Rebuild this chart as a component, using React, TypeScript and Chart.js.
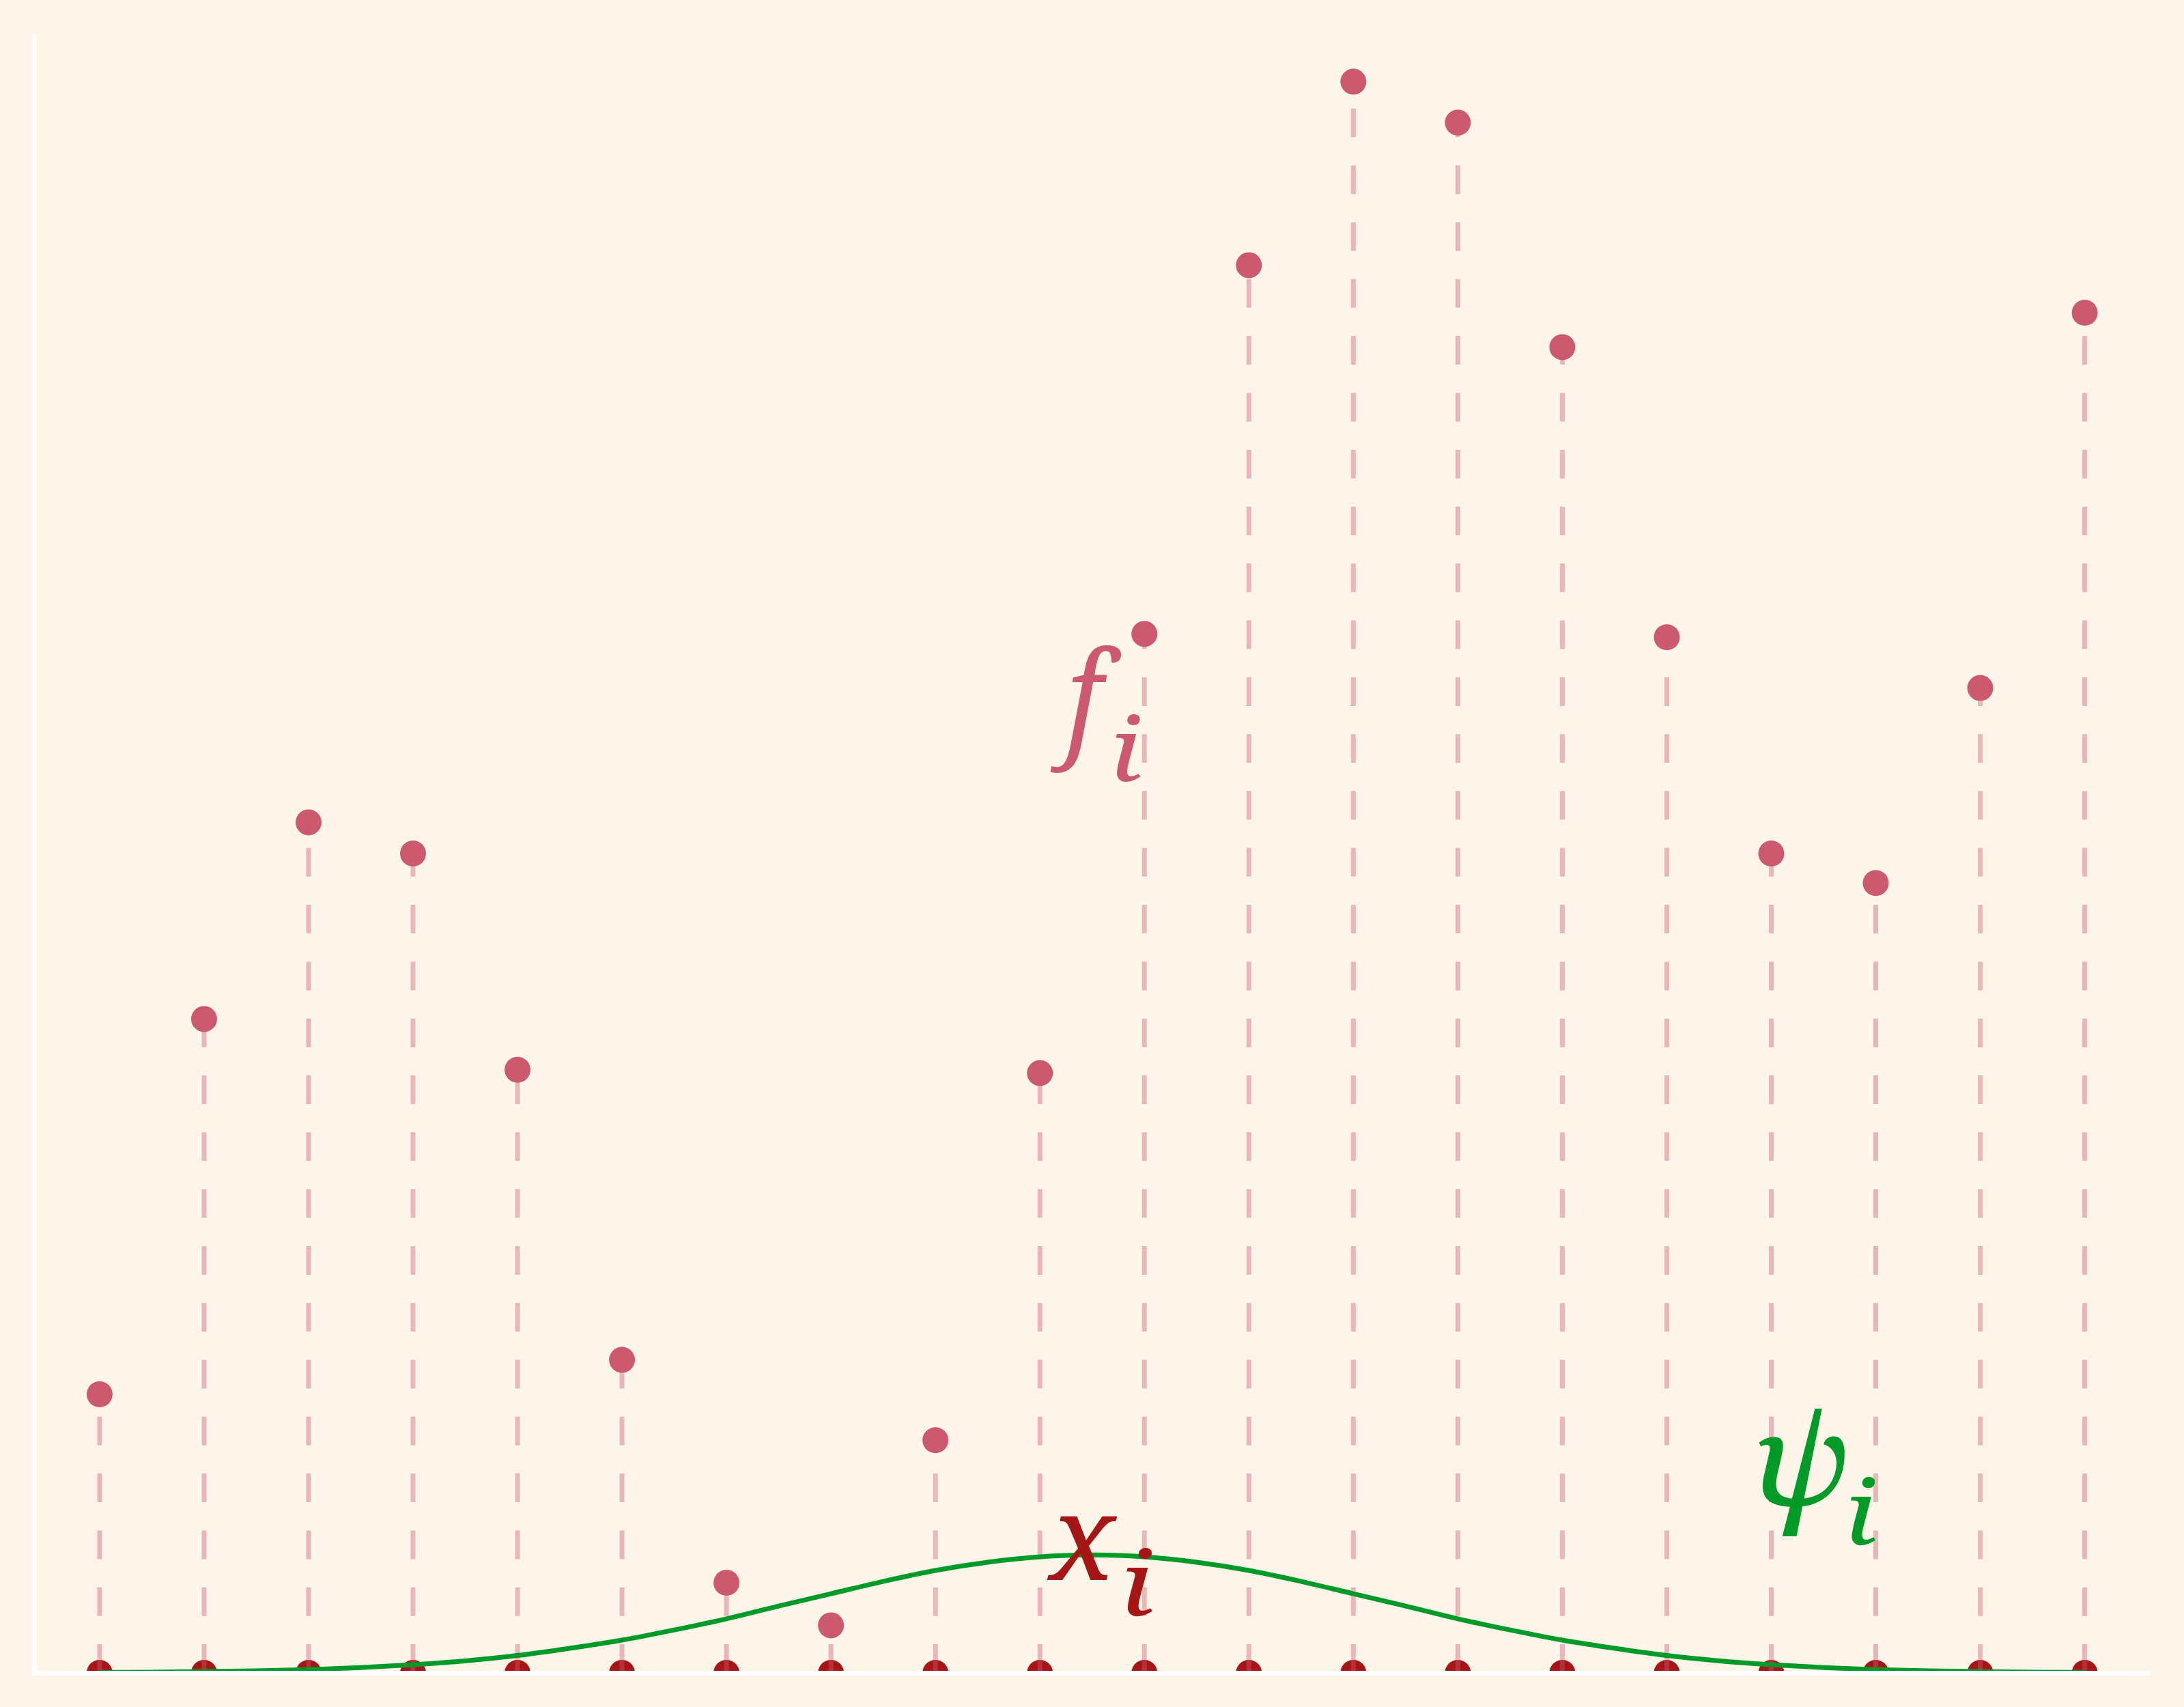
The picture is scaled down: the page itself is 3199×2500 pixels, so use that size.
import React, { useEffect, useRef } from "react";
import { Chart, registerables } from "chart.js";

Chart.register(...registerables);

// ---- data ----
const indices = [0, 1, 2, 3, 4, 5, 6, 7, 8, 9, 10, 11, 12, 13, 14, 15, 16, 17, 18, 19];
const fValues = [1.7, 3.99, 5.19, 5.0, 3.68, 1.91, 0.55, 0.29, 1.42, 3.66, 6.34, 8.59, 9.71, 9.46, 8.09, 6.32, 5.0, 4.82, 6.01, 8.3];
const xBaseline = [0, 0, 0, 0, 0, 0, 0, 0, 0, 0, 0, 0, 0, 0, 0, 0, 0, 0, 0, 0];
const psiX = [0, 0.5, 1, 1.5, 2, 2.5, 3, 3.5, 4, 4.5, 5, 5.5, 6, 6.5, 7, 7.5, 8, 8.5, 9, 9.5, 10, 10.5, 11, 11.5, 12, 12.5, 13, 13.5, 14, 14.5, 15, 15.5, 16, 16.5, 17, 17.5, 18, 18.5, 19];
const psiY = [0.003, 0.004, 0.008, 0.013, 0.02, 0.032, 0.05, 0.073, 0.106, 0.15, 0.2, 0.262, 0.33, 0.408, 0.483, 0.558, 0.625, 0.675, 0.708, 0.72, 0.708, 0.675, 0.625, 0.558, 0.483, 0.408, 0.33, 0.262, 0.2, 0.15, 0.106, 0.073, 0.05, 0.032, 0.02, 0.013, 0.008, 0.004, 0.003];

// ---- styles ----
const BG = "#FEF5E9";
const F_COLOR = "#CD5A6C";
const X_COLOR = "#A51717";
const PSI_COLOR = "#009A28";
const STEM_COLOR = "rgba(205,90,108,0.4)";
const FONT = '"Noto Serif", "Liberation Serif", serif';

type Box = { l: number; r: number; t: number; b: number };
type Label = { main: string; sub: string; color: string; mainBox: Box; subBox: Box };

const labels: Label[] = [
  { main: "f", sub: "i", color: F_COLOR, mainBox: { l: 9.1, r: 9.78, t: 6.27, b: 5.49 }, subBox: { l: 9.72, r: 9.97, t: 5.85, b: 5.44 } },
  { main: "x", sub: "i", color: X_COLOR, mainBox: { l: 9.065, r: 9.745, t: 0.958, b: 0.571 }, subBox: { l: 9.83, r: 10.08, t: 0.7625, b: 0.346 } },
  { main: "\u03C8", sub: "i", color: PSI_COLOR, mainBox: { l: 15.88, r: 16.71, t: 1.6125, b: 0.833 }, subBox: { l: 16.76, r: 17.0, t: 1.196, b: 0.779 } },
];

function drawFitted(ctx: CanvasRenderingContext2D, text: string, color: string, left: number, right: number, top: number, bottom: number) {
  const ref = 200;
  ctx.font = `italic ${ref}px ${FONT}`;
  const m0 = ctx.measureText(text);
  const h0 = m0.actualBoundingBoxAscent + m0.actualBoundingBoxDescent;
  const size = (ref * (bottom - top)) / h0;
  ctx.font = `italic ${size}px ${FONT}`;
  const m = ctx.measureText(text);
  const w = m.actualBoundingBoxLeft + m.actualBoundingBoxRight;
  const sx = w > 0 ? (right - left) / w : 1;
  ctx.save();
  ctx.translate(left, top + m.actualBoundingBoxAscent);
  ctx.scale(sx, 1);
  ctx.fillStyle = color;
  ctx.textAlign = "left";
  ctx.textBaseline = "alphabetic";
  ctx.fillText(text, m.actualBoundingBoxLeft, 0);
  ctx.restore();
}

const stemPlugin = {
  id: "stems",
  afterDatasetDraw(chart: any, args: any) {
    if (args.index !== 2) return;
    const { ctx, chartArea, scales } = chart;
    ctx.save();
    ctx.strokeStyle = STEM_COLOR;
    ctx.lineWidth = 7;
    ctx.lineCap = "butt";
    ctx.setLineDash([42, 41.3]);
    indices.forEach((xi, k) => {
      const px = scales.x.getPixelForValue(xi);
      const py = scales.y.getPixelForValue(fValues[k]);
      ctx.beginPath();
      ctx.moveTo(px, chartArea.bottom);
      ctx.lineTo(px, py);
      ctx.stroke();
    });
    ctx.restore();
  },
};

const axesPlugin = {
  id: "axesLines",
  afterDatasetsDraw(chart: any) {
    const { ctx, chartArea } = chart;
    ctx.save();
    ctx.strokeStyle = "#FFFFFF";
    ctx.lineWidth = 7;
    ctx.lineCap = "butt";
    ctx.beginPath();
    ctx.moveTo(chartArea.left - 0.5, chartArea.top);
    ctx.lineTo(chartArea.left - 0.5, chartArea.bottom + 4);
    ctx.stroke();
    ctx.beginPath();
    ctx.moveTo(chartArea.left - 4, chartArea.bottom + 0.5);
    ctx.lineTo(chartArea.right, chartArea.bottom + 0.5);
    ctx.stroke();
    ctx.restore();
  },
};

const labelPlugin = {
  id: "mathLabels",
  afterDraw(chart: any) {
    const { ctx, scales } = chart;
    const X = (v: number) => scales.x.getPixelForValue(v);
    const Y = (v: number) => scales.y.getPixelForValue(v);
    labels.forEach((lb) => {
      drawFitted(ctx, lb.main, lb.color, X(lb.mainBox.l), X(lb.mainBox.r), Y(lb.mainBox.t), Y(lb.mainBox.b));
      drawFitted(ctx, lb.sub, lb.color, X(lb.subBox.l), X(lb.subBox.r), Y(lb.subBox.t), Y(lb.subBox.b));
    });
  },
};

const bgPlugin = {
  id: "bg",
  beforeDraw(chart: any) {
    const { ctx, width, height } = chart;
    ctx.save();
    ctx.fillStyle = BG;
    ctx.fillRect(0, 0, width, height);
    ctx.restore();
  },
};

export default function App() {
  const ref = useRef<HTMLCanvasElement | null>(null);

  useEffect(() => {
    document.body.style.margin = "0";
    document.body.style.background = BG;
    const canvas = ref.current;
    if (!canvas) return;
    const chart = new Chart(canvas, {
      type: "scatter",
      data: {
        datasets: [
          {
            type: "line",
            label: "psi",
            data: psiX.map((x, i) => ({ x, y: psiY[i] })),
            borderColor: PSI_COLOR,
            borderWidth: 7,
            pointRadius: 0,
            fill: false,
            cubicInterpolationMode: "monotone",
            order: 0,
          } as any,
          {
            label: "f",
            data: indices.map((x, i) => ({ x, y: fValues[i] })),
            backgroundColor: F_COLOR,
            borderWidth: 0,
            pointRadius: 19,
            pointHoverRadius: 19,
            order: 1,
            clip: false,
          } as any,
          {
            label: "x",
            data: indices.map((x, i) => ({ x, y: xBaseline[i] })),
            backgroundColor: X_COLOR,
            borderWidth: 0,
            pointRadius: 19,
            pointHoverRadius: 19,
            order: 2,
            clip: 0,
          } as any,
        ],
      },
      options: {
        animation: false,
        responsive: true,
        maintainAspectRatio: false,
        events: [],
        layout: { padding: { left: 51, right: 49, top: 50, bottom: 50 } },
        plugins: { legend: { display: false }, tooltip: { enabled: false }, title: { display: false } },
        scales: {
          x: { type: "linear", display: false, min: -0.62, max: 19.63 },
          y: { type: "linear", display: false, min: 0, max: 10 },
        },
      },
      plugins: [bgPlugin, stemPlugin, axesPlugin, labelPlugin],
    });
    return () => chart.destroy();
  }, []);

  return (
    <div style={{ position: "fixed", left: 0, top: 0, width: "3199px", height: "2500px", background: BG }}>
      <canvas ref={ref} />
    </div>
  );
}
